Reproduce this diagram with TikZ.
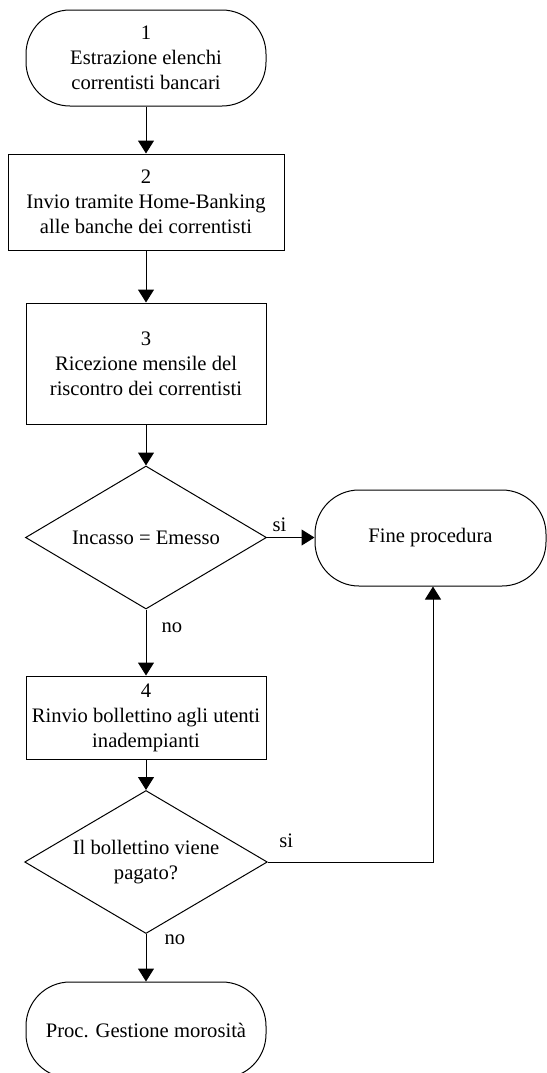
\documentclass[tikz,border=0pt]{standalone}
\usepackage{fontspec}
\setmainfont{Liberation Serif}
\usetikzlibrary{shapes,arrows.meta,positioning,calc}

\begin{document}
\begin{tikzpicture}[x=0.5pt,y=-0.5pt,line width=0.5pt,
    >={Triangle[length=6.5pt,width=8pt]},
    every node/.style={font=\fontsize{10.3}{12.5}\selectfont,align=center,inner sep=0pt},
    terminal/.style={draw,rectangle,rounded corners=22pt,minimum width=120pt,minimum height=48pt},
    process/.style={draw,rectangle,minimum width=120pt},
    decision/.style={draw,diamond,aspect=2.2,minimum width=120.5pt,minimum height=71.5pt},
    answer/.style={font=\fontsize{10.3}{12.5}\selectfont,inner sep=2.5pt}]
    \useasboundingbox (0,0) rectangle (547,1073);
    \clip (0,0) rectangle (547,1073);

    % Start
    \node[terminal] (start) at (146,58) {1\\Estrazione elenchi\\correntisti bancari};

    % Steps 2 and 3
    \node[process,minimum width=138pt,minimum height=48pt] (invio) at (146,202) {2\\Invio tramite Home-Banking\\alle banche dei correntisti};
    \node[process,minimum height=60.5pt] (ricezione) at (146,363.5) {3\\Ricezione mensile del\\riscontro dei correntisti};

    % First check
    \node[decision] (incasso) at (146,537.5) {Incasso = Emesso};
    \node[terminal,minimum width=115.5pt] (fine) at (430.5,538) {Fine procedura};

    % Step 4 and second check
    \node[process,minimum height=41.5pt] (rinvio) at (146,717.5) {4\\Rinvio bollettino agli utenti\\inadempianti};
    \node[decision] (pagato) at (146,862) {Il bollettino viene\\pagato?};

    % End
    \node[terminal] (morosita) at (146,1030) {Proc. Gestione morosità};

    % Connectors
    \draw[->] (start) -- (invio);
    \draw[->] (invio) -- (ricezione);
    \draw[->] (ricezione) -- (incasso);
    \draw[->] (incasso.east) -- (fine.west |- incasso.east)
        node[answer,pos=0,anchor=south west] {si};
    \draw[->] (incasso.south) -- (rinvio.north)
        node[answer,pos=0.28,anchor=west,xshift=5pt] {no};
    \draw[->] (rinvio) -- (pagato);
    \coordinate (giro) at (433,862);
    \draw[->] (pagato.east) -- (giro)
        node[answer,pos=0,anchor=south west,xshift=3pt,yshift=4.5pt] {si}
        -- (giro |- fine.south);
    \draw[->] (pagato.south) -- (morosita.north)
        node[answer,pos=0.12,anchor=west,xshift=6.5pt] {no};
\end{tikzpicture}
\end{document}
